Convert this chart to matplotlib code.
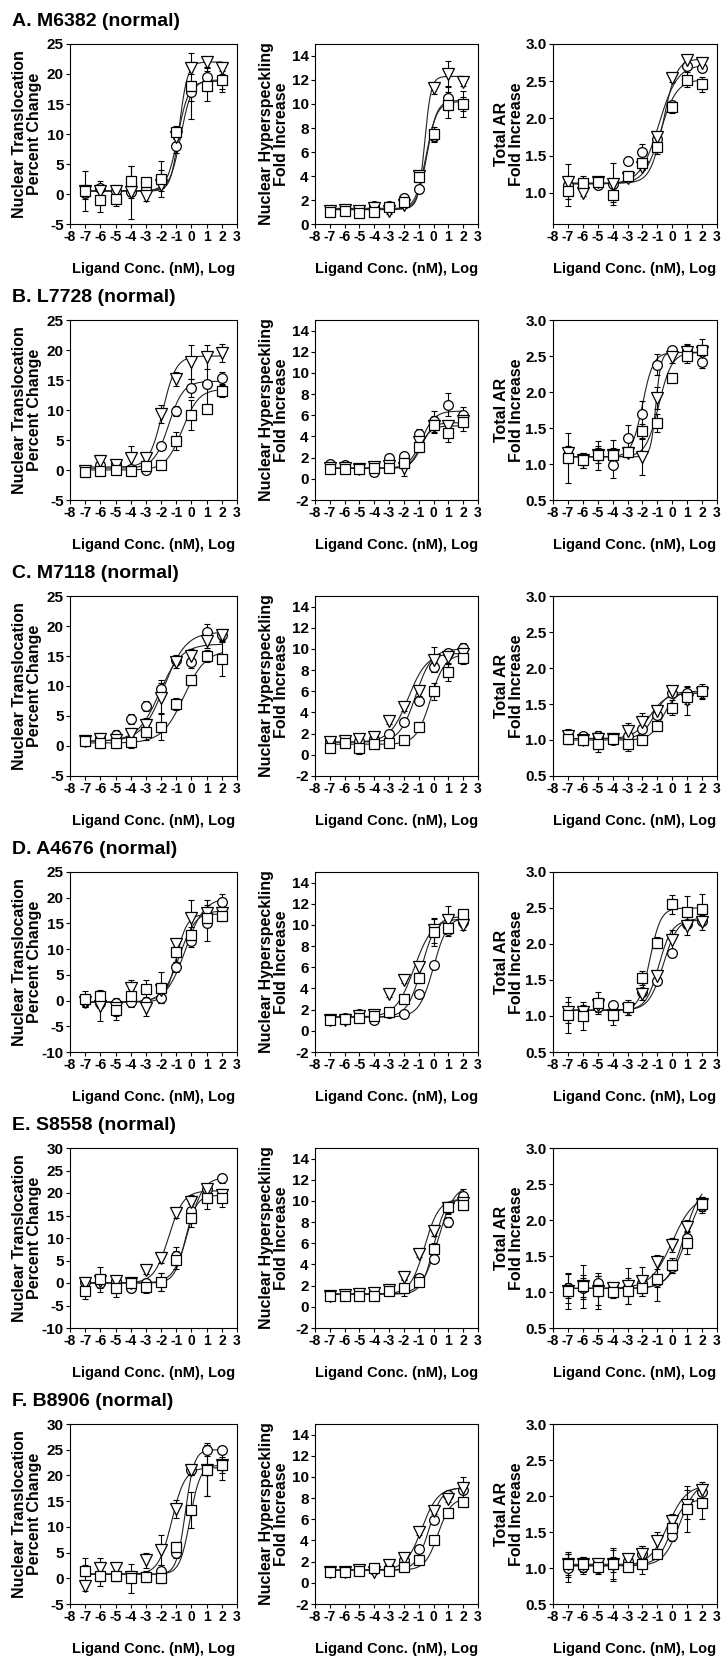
import numpy as np
import matplotlib
matplotlib.use("Agg")
import matplotlib.pyplot as plt

plt.rcParams['font.family'] = ['Liberation Sans', 'DejaVu Sans']
plt.rcParams['font.weight'] = 'bold'

# ---------------- data ----------------
doses = [-7, -6, -5, -4, -3, -2, -1, 0, 1, 2]
row_titles = ["A. M6382 (normal)", "B. L7728 (normal)", "C. M7118 (normal)",
              "D. A4676 (normal)", "E. S8558 (normal)", "F. B8906 (normal)"]
col_ylabels = ["Nuclear Translocation\nPercent Change",
               "Nuclear Hyperspeckling\nFold Increase",
               "Total AR\nFold Increase"]
xlabel_text = "Ligand Conc. (nM), Log"
x_ticks = list(range(-8, 4))

# y-axis limits and ticks per panel (row, col)
ylims = {
    (0, 0): (-5, 25), (1, 0): (-5, 25), (2, 0): (-5, 25), (3, 0): (-10, 25), (4, 0): (-10, 30), (5, 0): (-5, 30),
    (0, 1): (0, 15), (1, 1): (-2, 15), (2, 1): (-2, 15), (3, 1): (-2, 15), (4, 1): (-2, 15), (5, 1): (-2, 15),
    (0, 2): (0.58, 3.0), (1, 2): (0.5, 3.0), (2, 2): (0.5, 3.0), (3, 2): (0.5, 3.0), (4, 2): (0.5, 3.0), (5, 2): (0.5, 3.0),
}
yticks = {
    (0, 0): [-5, 0, 5, 10, 15, 20, 25], (1, 0): [-5, 0, 5, 10, 15, 20, 25], (2, 0): [-5, 0, 5, 10, 15, 20, 25],
    (3, 0): [-10, -5, 0, 5, 10, 15, 20, 25], (4, 0): [-10, -5, 0, 5, 10, 15, 20, 25, 30],
    (5, 0): [-5, 0, 5, 10, 15, 20, 25, 30],
    (0, 1): [0, 2, 4, 6, 8, 10, 12, 14],
    (1, 1): [-2, 0, 2, 4, 6, 8, 10, 12, 14], (2, 1): [-2, 0, 2, 4, 6, 8, 10, 12, 14],
    (3, 1): [-2, 0, 2, 4, 6, 8, 10, 12, 14], (4, 1): [-2, 0, 2, 4, 6, 8, 10, 12, 14],
    (5, 1): [-2, 0, 2, 4, 6, 8, 10, 12, 14],
    (0, 2): [1.0, 1.5, 2.0, 2.5, 3.0],
    (1, 2): [0.5, 1.0, 1.5, 2.0, 2.5, 3.0], (2, 2): [0.5, 1.0, 1.5, 2.0, 2.5, 3.0],
    (3, 2): [0.5, 1.0, 1.5, 2.0, 2.5, 3.0], (4, 2): [0.5, 1.0, 1.5, 2.0, 2.5, 3.0],
    (5, 2): [0.5, 1.0, 1.5, 2.0, 2.5, 3.0],
}

# Series order in each panel: circle, triangle-down, square
# means, error bars (SD), fit params (bottom, top, logEC50, hill)
A1_y = [[0.2, 1.0, 0.5, 0.3, 0.8, 2.5, 8.0, 17.0, 19.5, 19.0],
        [0.5, 0.5, 0.5, 0.3, -0.3, 1.5, 9.5, 21.0, 22.0, 21.0],
        [0.5, -1.0, -0.8, 2.2, 2.0, 2.5, 10.3, 18.0, 18.0, 19.0]]
A1_e = [[1.0, 1.2, 1.0, 4.4, 1.0, 1.5, 1.2, 1.5, 1.5, 1.5],
        [1.0, 1.0, 0.8, 1.0, 0.8, 1.0, 1.0, 1.0, 0.8, 1.0],
        [3.4, 2.0, 1.2, 2.5, 0.5, 3.0, 1.0, 5.5, 2.5, 2.0]]
A1_fit = [[0.5, 19.0, -0.7, 1.2], [0.5, 22.0, -0.8, 1.6], [0.5, 18.8, -0.9, 1.2]]

A2_y = [[1.2, 1.2, 1.2, 1.5, 1.5, 2.2, 2.9, 7.3, 10.5, 10.0],
        [1.1, 1.2, 1.1, 1.3, 1.1, 1.6, 4.0, 11.3, 12.5, 11.8],
        [1.0, 1.1, 0.9, 1.0, 1.4, 1.8, 3.9, 7.5, 9.9, 10.0]]
A2_e = [[0.3, 0.3, 0.3, 0.3, 0.3, 0.3, 0.3, 0.5, 1.0, 0.6],
        [0.2, 0.2, 0.2, 0.2, 0.3, 0.3, 0.4, 0.5, 1.1, 0.3],
        [0.3, 0.2, 0.2, 0.2, 0.3, 0.3, 0.4, 0.6, 1.1, 1.1]]
A2_fit = [[1.2, 10.3, -0.45, 1.3], [1.3, 12.3, -0.6, 2.0], [1.2, 10.2, -0.5, 1.2]]

A3_y = [[1.10, 1.12, 1.10, 1.12, 1.43, 1.55, 1.72, 2.18, 2.70, 2.68],
        [1.15, 1.00, 1.15, 1.12, 1.20, 1.35, 1.75, 2.54, 2.78, 2.75],
        [1.02, 1.13, 1.15, 0.97, 1.22, 1.40, 1.62, 2.15, 2.52, 2.46]]
A3_e = [[0.05, 0.05, 0.05, 0.05, 0.05, 0.10, 0.05, 0.05, 0.05, 0.05],
        [0.23, 0.05, 0.05, 0.28, 0.05, 0.05, 0.05, 0.05, 0.05, 0.05],
        [0.20, 0.10, 0.05, 0.10, 0.05, 0.05, 0.10, 0.08, 0.10, 0.10]]
A3_fit = [[1.12, 2.72, -0.9, 0.7], [1.13, 2.80, -0.6, 1.0], [1.12, 2.52, -0.8, 0.8]]

B1_y = [[-0.2, 0.8, 1.0, 0.2, 0.0, 4.0, 9.8, 13.6, 14.3, 15.3],
        [-0.2, 1.5, 0.8, 2.0, 2.0, 9.3, 15.2, 18.0, 18.8, 19.5],
        [-0.3, -0.2, 0.0, -0.2, 0.7, 0.9, 4.8, 9.2, 10.2, 13.2]]
B1_e = [[0.5, 0.5, 0.5, 0.5, 0.5, 0.5, 0.8, 1.5, 4.5, 1.0],
        [0.5, 1.0, 0.5, 2.0, 0.5, 1.5, 1.2, 2.8, 2.0, 1.5],
        [0.5, 0.5, 0.5, 0.5, 0.5, 0.5, 1.5, 2.5, 0.5, 1.0]]
B1_fit = [[0.3, 14.8, -1.5, 0.9], [0.5, 19.0, -1.9, 1.0], [0.0, 13.5, -0.6, 0.8]]

B2_y = [[1.4, 1.3, 0.9, 0.6, 2.0, 2.2, 4.2, 5.5, 7.0, 6.0],
        [1.0, 1.0, 0.9, 1.1, 1.2, 1.0, 3.5, 5.0, 5.0, 5.5],
        [0.9, 0.9, 0.9, 1.0, 1.0, 1.5, 3.0, 5.1, 4.3, 5.4]]
B2_e = [[0.3, 0.3, 0.3, 0.3, 0.3, 0.3, 0.5, 0.9, 1.1, 0.8],
        [0.3, 0.3, 0.3, 0.3, 0.3, 0.7, 0.5, 0.6, 0.6, 0.6],
        [0.3, 0.3, 0.3, 0.3, 0.3, 0.5, 0.5, 0.8, 0.8, 0.9]]
B2_fit = [[1.0, 6.4, -0.8, 1.0], [1.0, 5.3, -0.8, 1.2], [1.0, 5.0, -0.9, 1.2]]

B3_y = [[1.12, 1.08, 1.15, 0.98, 1.36, 1.70, 2.38, 2.58, 2.57, 2.42],
        [1.15, 1.05, 1.12, 1.12, 1.15, 1.10, 1.92, 2.48, 2.55, 2.55],
        [1.08, 1.05, 1.12, 1.13, 1.16, 1.46, 1.57, 2.19, 2.50, 2.58]]
B3_e = [[0.10, 0.05, 0.10, 0.18, 0.18, 0.18, 0.15, 0.05, 0.10, 0.08],
        [0.10, 0.10, 0.10, 0.10, 0.05, 0.25, 0.15, 0.08, 0.10, 0.10],
        [0.35, 0.10, 0.20, 0.20, 0.05, 0.10, 0.12, 0.05, 0.10, 0.15]]
B3_fit = [[1.10, 2.55, -2.0, 1.2], [1.10, 2.55, -1.1, 2.5], [1.10, 2.55, -0.9, 1.0]]

C1_y = [[1.0, 1.3, 1.8, 4.5, 6.7, 9.5, 14.3, 14.0, 19.0, 18.5],
        [0.8, 1.2, 1.0, 2.0, 3.5, 8.0, 14.0, 15.0, 17.5, 18.5],
        [0.8, 0.5, 0.5, 0.7, 2.3, 3.2, 7.0, 11.0, 15.0, 14.5]]
C1_e = [[0.8, 0.8, 0.8, 0.8, 0.8, 1.5, 0.8, 1.0, 1.3, 0.8],
        [0.8, 0.8, 0.8, 1.0, 1.2, 2.5, 1.0, 1.2, 1.2, 1.0],
        [0.8, 0.8, 0.8, 1.0, 1.3, 2.2, 1.0, 0.8, 1.0, 2.8]]
C1_fit = [[0.8, 17.0, -2.1, 0.6], [0.8, 19.0, -1.8, 0.6], [0.5, 16.0, -0.5, 0.6]]

C2_y = [[1.3, 1.4, 1.3, 1.5, 2.0, 3.1, 5.1, 8.3, 9.6, 10.1],
        [1.2, 1.3, 1.5, 1.7, 3.2, 4.5, 6.0, 9.0, 9.2, 9.5],
        [0.6, 1.1, 0.6, 1.0, 1.1, 1.4, 2.6, 6.0, 7.8, 9.1]]
C2_e = [[0.3, 0.3, 0.3, 0.3, 0.3, 0.3, 0.4, 0.5, 0.4, 0.5],
        [0.3, 0.3, 0.3, 0.3, 0.3, 0.4, 0.4, 1.2, 0.5, 0.5],
        [0.3, 0.3, 0.5, 0.3, 0.3, 0.3, 0.3, 0.8, 0.8, 0.5]]
C2_fit = [[1.2, 10.0, -1.2, 0.8], [1.2, 9.6, -1.7, 0.7], [1.0, 9.5, -0.2, 0.9]]

C3_y = [[1.05, 1.05, 1.05, 1.00, 1.05, 1.15, 1.35, 1.65, 1.65, 1.68],
        [1.05, 1.00, 1.02, 1.02, 1.12, 1.25, 1.40, 1.68, 1.55, 1.65],
        [1.02, 1.00, 0.95, 1.02, 0.95, 1.00, 1.20, 1.45, 1.60, 1.68]]
C3_e = [[0.05, 0.05, 0.05, 0.05, 0.05, 0.05, 0.05, 0.05, 0.08, 0.05],
        [0.10, 0.05, 0.10, 0.08, 0.12, 0.12, 0.05, 0.05, 0.20, 0.08],
        [0.08, 0.05, 0.12, 0.05, 0.10, 0.05, 0.05, 0.10, 0.10, 0.10]]
C3_fit = [[1.02, 1.67, -1.2, 1.0], [1.02, 1.65, -1.5, 0.8], [1.00, 1.68, -0.6, 1.0]]

D1_y = [[0.0, -0.5, -0.5, -0.3, -0.3, 0.5, 6.5, 11.5, 15.0, 19.2],
        [-0.3, -1.0, -1.5, 2.5, -1.5, 2.0, 11.0, 16.0, 17.0, 17.0],
        [0.3, 0.8, -1.8, 0.8, 2.2, 2.5, 9.5, 12.8, 16.0, 16.5]]
D1_e = [[1.0, 1.0, 1.0, 1.0, 1.0, 1.0, 1.0, 1.0, 3.5, 1.5],
        [1.0, 3.0, 1.5, 1.5, 1.5, 1.5, 1.0, 3.5, 2.5, 1.0],
        [1.5, 1.0, 2.0, 1.5, 1.8, 3.0, 2.0, 1.5, 1.5, 1.0]]
D1_fit = [[-0.3, 20.0, -0.4, 0.7], [-0.3, 16.8, -1.0, 1.2], [-0.3, 17.5, -0.8, 0.8]]

D2_y = [[1.0, 1.2, 1.6, 1.0, 1.7, 1.6, 3.5, 6.2, 9.5, 10.3],
        [1.0, 1.0, 1.4, 1.5, 3.5, 4.8, 6.0, 9.5, 10.5, 10.0],
        [1.0, 1.1, 1.2, 1.4, 1.8, 3.0, 5.0, 9.3, 9.7, 11.0]]
D2_e = [[0.3, 0.3, 0.3, 0.3, 0.3, 0.3, 0.3, 0.3, 0.5, 0.5],
        [0.3, 0.3, 0.3, 0.3, 0.3, 0.3, 0.5, 1.2, 1.3, 0.5],
        [0.3, 0.3, 0.3, 0.3, 0.3, 0.3, 0.5, 1.3, 0.5, 0.3]]
D2_fit = [[1.3, 10.8, 0.0, 0.9], [1.3, 10.6, -1.3, 0.7], [1.3, 10.8, -0.8, 0.9]]

D3_y = [[1.05, 1.05, 1.12, 1.15, 1.12, 1.33, 1.48, 1.87, 2.28, 2.32],
        [1.05, 1.05, 1.15, 1.02, 1.10, 1.30, 1.55, 2.05, 2.25, 2.30],
        [1.02, 1.00, 1.18, 1.02, 1.12, 1.53, 2.02, 2.55, 2.45, 2.48]]
D3_e = [[0.05, 0.05, 0.05, 0.05, 0.05, 0.05, 0.05, 0.05, 0.05, 0.05],
        [0.15, 0.10, 0.10, 0.08, 0.08, 0.08, 0.08, 0.15, 0.12, 0.10],
        [0.25, 0.20, 0.15, 0.15, 0.10, 0.10, 0.08, 0.13, 0.22, 0.22]]
D3_fit = [[1.08, 2.36, -0.6, 0.9], [1.08, 2.33, -0.9, 1.0], [1.08, 2.50, -1.5, 1.2]]

E1_y = [[0.2, 0.0, 0.5, -1.0, 0.0, 0.3, 6.0, 16.0, 21.0, 23.3],
        [0.0, 0.5, 0.5, 0.0, 3.0, 5.5, 15.5, 18.0, 21.0, 19.5],
        [-1.8, 0.8, -1.0, 0.0, -0.8, 0.2, 5.2, 14.5, 19.0, 18.8]]
E1_e = [[1.2, 1.0, 1.0, 1.0, 1.0, 2.0, 2.0, 1.5, 1.0, 1.0],
        [1.0, 1.0, 1.0, 1.0, 1.0, 1.0, 1.0, 1.5, 1.0, 1.0],
        [1.8, 2.8, 2.0, 1.0, 1.5, 2.0, 2.0, 2.0, 2.5, 2.0]]
E1_fit = [[0.0, 23.5, -0.2, 0.9], [0.0, 20.5, -1.5, 0.9], [0.0, 19.5, -0.4, 1.2]]

E2_y = [[1.1, 1.0, 1.2, 1.3, 1.5, 1.8, 2.7, 4.5, 8.0, 10.5],
        [1.0, 1.1, 1.2, 1.3, 1.6, 2.8, 5.0, 7.2, 9.3, 9.8],
        [1.0, 1.0, 1.0, 1.0, 1.5, 1.8, 2.3, 5.5, 9.4, 9.6]]
E2_e = [[0.3, 0.3, 0.3, 0.3, 0.3, 0.3, 0.3, 0.3, 0.5, 0.6],
        [0.3, 0.3, 0.3, 0.3, 0.3, 0.3, 0.3, 0.5, 0.5, 0.5],
        [0.3, 0.3, 0.3, 0.3, 0.3, 0.8, 0.3, 0.5, 0.5, 0.5]]
E2_fit = [[1.2, 11.5, 0.3, 0.8], [1.2, 10.2, -0.6, 0.9], [1.2, 10.2, 0.0, 1.1]]

E3_y = [[1.05, 1.05, 1.12, 1.05, 1.05, 1.12, 1.15, 1.35, 1.75, 2.20],
        [1.02, 1.08, 1.02, 1.05, 1.08, 1.15, 1.42, 1.65, 1.90, 2.22],
        [1.02, 1.08, 1.02, 1.00, 1.02, 1.05, 1.18, 1.37, 1.68, 2.22]]
E3_e = [[0.20, 0.15, 0.10, 0.08, 0.08, 0.08, 0.08, 0.08, 0.10, 0.10],
        [0.10, 0.30, 0.20, 0.08, 0.25, 0.20, 0.10, 0.10, 0.10, 0.10],
        [0.25, 0.15, 0.25, 0.08, 0.18, 0.10, 0.30, 0.10, 0.15, 0.10]]
E3_fit = [[1.05, 2.50, 1.0, 0.7], [1.05, 2.35, 0.0, 0.6], [1.05, 2.50, 0.8, 0.8]]

F1_y = [[1.5, 0.5, 0.5, 0.5, 0.5, 1.5, 5.0, 21.0, 25.0, 25.0],
        [-1.5, 2.0, 2.0, 0.2, 3.5, 5.5, 13.5, 21.0, 21.0, 22.0],
        [1.5, 0.5, 0.5, 0.0, 0.3, 0.0, 6.0, 13.2, 21.0, 22.0]]
F1_e = [[1.0, 1.0, 1.0, 1.0, 1.0, 1.0, 1.0, 1.0, 1.3, 0.8],
        [1.0, 2.0, 1.0, 1.0, 1.5, 3.0, 1.8, 1.0, 5.0, 1.5],
        [2.5, 2.0, 1.0, 2.8, 1.0, 1.0, 1.0, 3.5, 5.0, 2.8]]
F1_fit = [[0.8, 25.0, -0.4, 1.5], [0.8, 21.5, -1.3, 1.0], [0.8, 22.0, -0.1, 1.3]]

F2_y = [[1.0, 1.1, 1.2, 1.3, 1.4, 2.2, 3.2, 5.9, 8.3, 8.8],
        [1.0, 1.0, 1.2, 1.0, 1.7, 2.3, 4.8, 6.8, 7.9, 9.0],
        [1.0, 1.0, 1.1, 1.4, 1.1, 1.5, 2.2, 4.0, 6.6, 7.6]]
F2_e = [[0.2, 0.2, 0.2, 0.2, 0.2, 0.3, 0.3, 0.3, 0.3, 1.2],
        [0.2, 0.2, 0.2, 0.2, 0.3, 0.3, 0.3, 0.3, 0.3, 0.5],
        [0.2, 0.2, 0.2, 0.2, 0.2, 0.2, 0.3, 0.3, 0.3, 0.3]]
F2_fit = [[1.2, 9.0, -0.3, 1.0], [1.2, 9.0, -0.8, 0.8], [1.2, 8.0, 0.3, 1.0]]

F3_y = [[1.00, 1.02, 1.00, 1.05, 1.10, 1.20, 1.20, 1.45, 1.85, 2.05],
        [1.05, 1.05, 1.05, 1.05, 1.12, 1.20, 1.38, 1.65, 1.88, 2.08],
        [1.05, 1.05, 1.02, 1.05, 1.02, 1.05, 1.20, 1.55, 1.82, 1.90]]
F3_e = [[0.20, 0.10, 0.08, 0.20, 0.10, 0.10, 0.05, 0.08, 0.10, 0.10],
        [0.15, 0.10, 0.08, 0.10, 0.08, 0.10, 0.12, 0.10, 0.20, 0.12],
        [0.17, 0.10, 0.08, 0.23, 0.05, 0.13, 0.05, 0.08, 0.32, 0.22]]
F3_fit = [[1.03, 2.20, 0.5, 0.8], [1.03, 2.15, -0.3, 0.7], [1.05, 1.95, -0.1, 1.0]]

panel_y = [[A1_y, A2_y, A3_y], [B1_y, B2_y, B3_y], [C1_y, C2_y, C3_y],
           [D1_y, D2_y, D3_y], [E1_y, E2_y, E3_y], [F1_y, F2_y, F3_y]]
panel_e = [[A1_e, A2_e, A3_e], [B1_e, B2_e, B3_e], [C1_e, C2_e, C3_e],
           [D1_e, D2_e, D3_e], [E1_e, E2_e, E3_e], [F1_e, F2_e, F3_e]]
panel_fit = [[A1_fit, A2_fit, A3_fit], [B1_fit, B2_fit, B3_fit], [C1_fit, C2_fit, C3_fit],
             [D1_fit, D2_fit, D3_fit], [E1_fit, E2_fit, E3_fit], [F1_fit, F2_fit, F3_fit]]

markers = ['o', 'v', 's']
msizes = [7.0, 8.0, 7.5]


def logistic(x, p):
    b, t, ec, h = p
    return b + (t - b) / (1.0 + 10 ** ((ec - x) * h))


# ---------------- layout ----------------
W, H = 723, 1661
fig = plt.figure(figsize=(W / 100, H / 100), dpi=100)

col_left = [70, 315, 553]
col_width = [167, 163, 164]
row_top0 = 44
row_pitch = 276
ax_h = 180
ylabel_x = [27, 274, 509]

xs = np.linspace(-7, 2, 200)

for r in range(6):
    top = row_top0 + r * row_pitch
    fig.text(12 / W, 1 - (top - 23) / H, row_titles[r], fontsize=14, fontweight='bold',
             ha='left', va='center')
    for c in range(3):
        ax = fig.add_axes([col_left[c] / W, 1 - (top + ax_h) / H, col_width[c] / W, ax_h / H])
        ys = panel_y[r][c]
        es = panel_e[r][c]
        fits = panel_fit[r][c]
        for k in range(3):
            ax.plot(xs, logistic(xs, fits[k]), color='#222222', lw=0.8, zorder=2)
            ax.errorbar(doses, ys[k], yerr=es[k], fmt='none', ecolor='black',
                        elinewidth=0.8, capsize=2, capthick=0.8, zorder=3)
        for k in range(3):
            ax.plot(doses, ys[k], linestyle='none', marker=markers[k], ms=msizes[k],
                    mfc='white', mec='black', mew=0.9, zorder=4)
        ax.set_xlim(-8, 3)
        ax.set_ylim(*ylims[(r, c)])
        ax.set_xticks(x_ticks)
        ax.set_xticklabels([str(v) for v in x_ticks], fontsize=10, fontweight='bold')
        yt = yticks[(r, c)]
        ax.set_yticks(yt)
        if c == 2:
            ax.set_yticklabels(["%.1f" % v for v in yt], fontsize=11, fontweight='bold')
        else:
            ax.set_yticklabels([str(v) for v in yt], fontsize=11, fontweight='bold')
        ax.tick_params(direction='out', length=3, width=0.8, pad=1.5)
        for s in ax.spines.values():
            s.set_linewidth(0.8)
        fig.text(ylabel_x[c] / W, 1 - (top + ax_h / 2) / H, col_ylabels[c], rotation=90,
                 fontsize=11.5, fontweight='bold', ha='center', va='center',
                 linespacing=0.95, multialignment='center')
        fig.text((col_left[c] + col_width[c] / 2) / W, 1 - (top + ax_h + 45) / H, xlabel_text,
                 fontsize=10.5, fontweight='bold', ha='center', va='center')

fig.savefig("out.png", dpi=100)
